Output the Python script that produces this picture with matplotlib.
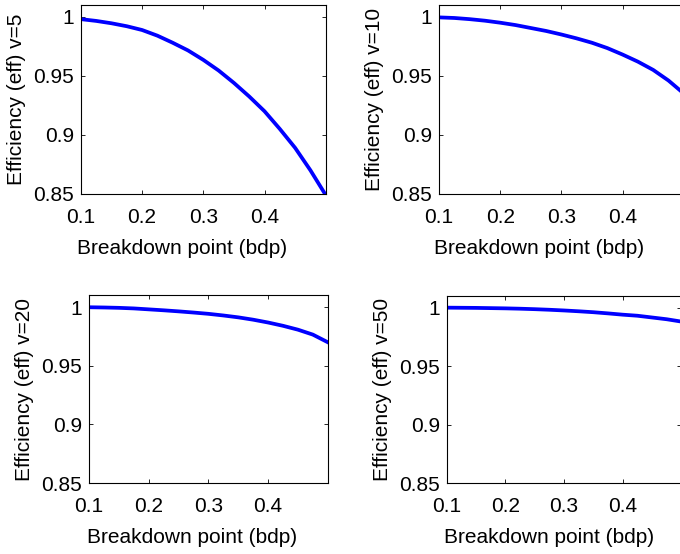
import matplotlib
matplotlib.use("Agg")
import matplotlib.pyplot as plt

# breakdown point grid and efficiencies
bdp = [0.1, 0.125, 0.15, 0.175, 0.2, 0.225, 0.25, 0.275, 0.3,
       0.325, 0.35, 0.375, 0.4, 0.425, 0.45, 0.475, 0.5]
eff_v5 = [0.998, 0.9965, 0.9945, 0.992, 0.9888, 0.984, 0.978, 0.9715, 0.9635,
          0.9545, 0.944, 0.9325, 0.920, 0.905, 0.889, 0.870, 0.849]
eff_v10 = [0.9995, 0.999, 0.998, 0.9967, 0.995, 0.993, 0.9905, 0.988, 0.985,
           0.9817, 0.978, 0.9735, 0.968, 0.962, 0.955, 0.946, 0.935]
eff_v20 = [0.9998, 0.9996, 0.9993, 0.9988, 0.998, 0.9972, 0.9963, 0.9953, 0.9942,
           0.9928, 0.9912, 0.9892, 0.9868, 0.984, 0.9807, 0.9765, 0.970]
eff_v50 = [0.9999, 0.9998, 0.9997, 0.9995, 0.9993, 0.999, 0.9986, 0.9981, 0.9975,
           0.9968, 0.996, 0.995, 0.9939, 0.993, 0.9915, 0.990, 0.988]

v_labels = ["v=5", "v=10", "v=20", "v=50"]
x_ticks = [0.1, 0.2, 0.3, 0.4]
y_ticks = [0.85, 0.9, 0.95, 1]
y_ticklabels = ["0.85", "0.9", "0.95", "1"]

plt.rcParams["font.family"] = ["Liberation Sans", "DejaVu Sans"]
plt.rcParams["font.size"] = 15

fig = plt.figure(figsize=(6.8, 5.54), dpi=100)

# axes rectangles (left, bottom, width, height) in figure fractions
rects = [
    [0.119, 0.650, 0.360, 0.341],
    [0.6456, 0.650, 0.360, 0.341],
    [0.131, 0.128, 0.351, 0.339],
    [0.657, 0.128, 0.345, 0.338],
]
# the x labels sit a bit left of the axes centre in the original
xlabel_x = [0.415, 0.41, 0.431, 0.438]
series = [eff_v5, eff_v10, eff_v20, eff_v50]

for rect, eff, vl, lx in zip(rects, series, v_labels, xlabel_x):
    ax = fig.add_axes(rect)
    ax.plot(bdp, eff, color=(0, 0, 1), linewidth=2.7, solid_joinstyle="round")
    ax.set_xlim(0.1, 0.5)
    ax.set_ylim(0.85, 1.01)
    ax.set_xticks(x_ticks)
    ax.set_xticklabels([f"{t:g}" for t in x_ticks])
    ax.set_yticks(y_ticks)
    ax.set_yticklabels(y_ticklabels)
    ax.tick_params(direction="in", length=3, width=0.6, top=True, right=True)
    ax.tick_params(axis="x", pad=10)
    ax.tick_params(axis="y", pad=5)
    for s in ax.spines.values():
        s.set_linewidth(0.8)
    ax.set_xlabel("Breakdown point (bdp)", labelpad=9)
    ax.xaxis.label.set_x(lx)
    ax.set_ylabel(f"Efficiency (eff) {vl}", labelpad=5)

fig.savefig("out.png", dpi=100)
